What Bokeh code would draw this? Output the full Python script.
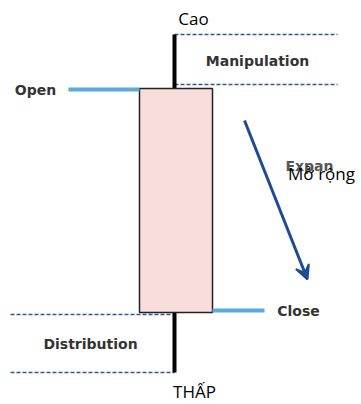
from bokeh.plotting import figure
from bokeh.models import Range1d, Arrow, VeeHead
from bokeh.core.properties import value
from bokeh.embed import file_html
from bokeh.resources import INLINE

# ---- data (diagram levels, screen-like units, y grows downward) ----
high_level = 34
open_level = 88
close_level = 312
low_level = 372
manip_level = 84
dist_level = 314

candle_x = 174
candle_left = 139
candle_right = 212

open_line_x = [68, 139]
close_line_x = [212, 264]
top_dash_x = [174, 337]
bottom_dash_x = [10, 174]

arrow_start = (244, 120)
arrow_end = (307, 279)

label_texts = ["Cao", "THẤP", "Mở rộng"]
label_x = [193, 194, 321]
label_y = [18, 391, 173]

bold_texts = ["Manipulation", "Open", "Close", "Distribution"]
bold_x = [257, 35, 298, 90]
bold_y = [60, 89, 310, 343]

W, H = 361, 404
p = figure(width=W, height=H, output_backend="svg", toolbar_location=None,
           x_range=Range1d(0, W), y_range=Range1d(H, 0),
           min_border=0, outline_line_color=None, background_fill_color="white")
p.axis.visible = False
p.grid.visible = False

dash_col = "#34558f"
# dashed zone lines
p.segment(x0=[top_dash_x[0], top_dash_x[0], bottom_dash_x[0], bottom_dash_x[0]],
          x1=[top_dash_x[1], top_dash_x[1], bottom_dash_x[1], bottom_dash_x[1]],
          y0=[high_level, manip_level, dist_level, low_level],
          y1=[high_level, manip_level, dist_level, low_level],
          line_color=dash_col, line_width=1.5, line_dash="4 2")

# wick
p.segment(x0=[candle_x], x1=[candle_x], y0=[high_level], y1=[low_level],
          line_color="black", line_width=4)

# body
p.quad(left=[candle_left], right=[candle_right], top=[open_level], bottom=[close_level],
       fill_color="#f9dcdc", line_color="#222222", line_width=1.5)

# open / close lines
blue = "#5aaadc"
p.segment(x0=[open_line_x[0], close_line_x[0]], x1=[open_line_x[1], close_line_x[1]],
          y0=[open_level + 1, close_level - 2], y1=[open_level + 1, close_level - 2],
          line_color=blue, line_width=4)

# arrow
p.add_layout(Arrow(x_start=arrow_start[0], y_start=arrow_start[1],
                   x_end=arrow_end[0], y_end=arrow_end[1],
                   line_color="#1f4a94", line_width=3,
                   end=VeeHead(size=14, fill_color="#1f4a94", line_color="#1f4a94", line_width=2)))

# bold labels
p.text(x=bold_x, y=bold_y, text=bold_texts, text_font=value("DejaVu Sans"),
       text_font_style="bold", text_font_size="14px", text_color="#333333",
       text_align="center", text_baseline="middle")

# partially hidden "Expan"
p.text(x=[309], y=[165], text=["Expan"], text_font=value("DejaVu Sans"),
       text_font_style="bold", text_font_size="14px", text_color="#555555",
       text_align="center", text_baseline="middle")

# overlay labels
p.text(x=label_x, y=label_y, text=label_texts, text_font=value("Open Sans"),
       text_font_size="17px", text_color="black",
       text_align="center", text_baseline="middle")

open("out.html", "w").write(file_html(p, INLINE))
